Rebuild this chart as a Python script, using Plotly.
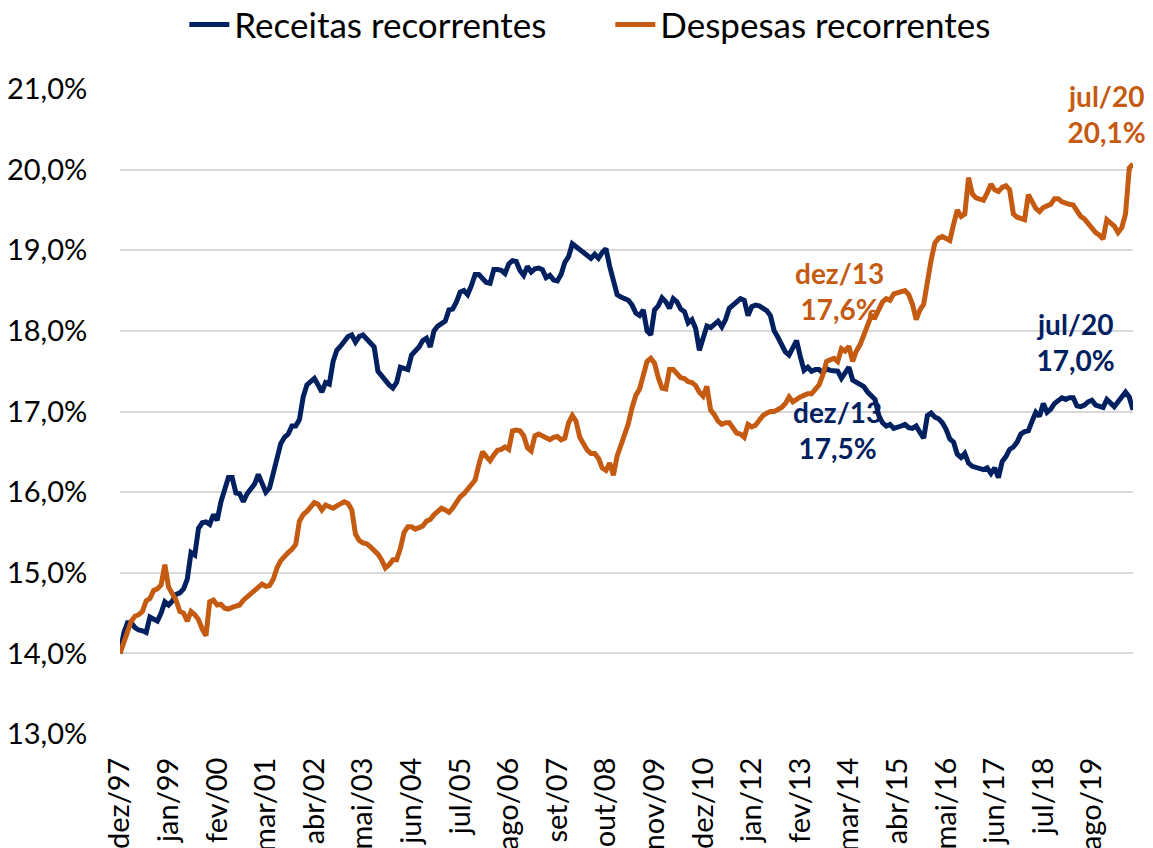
import plotly.graph_objects as go

# --- data: monthly series, dez/97 .. jul/20 (% of GDP) ---
receitas = [
    14.00, 14.25, 14.38, 14.38, 14.32, 14.29, 14.28, 14.26, 14.45, 14.42, 14.40, 14.50,
    14.64, 14.60, 14.65, 14.73, 14.75, 14.80, 14.92, 15.25, 15.22, 15.55, 15.62, 15.63,
    15.60, 15.72, 15.65, 15.88, 16.05, 16.18, 16.18, 15.99, 15.98, 15.88, 15.98, 16.05,
    16.10, 16.22, 16.10, 16.00, 16.05, 16.22, 16.42, 16.60, 16.68, 16.72, 16.82, 16.82,
    16.90, 17.18, 17.33, 17.38, 17.41, 17.33, 17.24, 17.36, 17.34, 17.62, 17.76, 17.81,
    17.88, 17.93, 17.95, 17.86, 17.93, 17.95, 17.90, 17.86, 17.80, 17.50, 17.44, 17.38,
    17.33, 17.29, 17.36, 17.55, 17.53, 17.52, 17.70, 17.74, 17.80, 17.88, 17.91, 17.80,
    18.00, 18.06, 18.10, 18.12, 18.26, 18.27, 18.36, 18.48, 18.50, 18.45, 18.56, 18.70,
    18.70, 18.64, 18.60, 18.59, 18.76, 18.76, 18.75, 18.71, 18.83, 18.87, 18.86, 18.75,
    18.69, 18.80, 18.73, 18.77, 18.78, 18.76, 18.66, 18.69, 18.63, 18.62, 18.70, 18.85,
    18.92, 19.08, 19.04, 19.01, 18.98, 18.93, 18.90, 18.95, 18.90, 18.97, 19.02, 18.80,
    18.62, 18.45, 18.42, 18.40, 18.38, 18.32, 18.22, 18.19, 18.26, 18.00, 17.95, 18.26,
    18.31, 18.41, 18.36, 18.28, 18.40, 18.36, 18.27, 18.24, 18.10, 18.14, 18.03, 17.76,
    17.93, 18.06, 18.04, 18.08, 18.12, 18.05, 18.14, 18.28, 18.32, 18.38, 18.40, 18.38,
    18.19, 18.30, 18.32, 18.31, 18.28, 18.25, 18.19, 18.00, 17.92, 17.82, 17.74, 17.70,
    17.78, 17.88, 17.68, 17.51, 17.55, 17.50, 17.52, 17.52, 17.48, 17.53, 17.51, 17.50,
    17.50, 17.41, 17.48, 17.55, 17.39, 17.36, 17.34, 17.31, 17.24, 17.20, 17.15, 16.95,
    16.86, 16.82, 16.84, 16.79, 16.80, 16.82, 16.84, 16.80, 16.79, 16.82, 16.74, 16.67,
    16.95, 16.98, 16.93, 16.91, 16.86, 16.78, 16.66, 16.62, 16.47, 16.43, 16.48, 16.36,
    16.32, 16.31, 16.30, 16.28, 16.30, 16.23, 16.30, 16.18, 16.38, 16.44, 16.53, 16.56,
    16.62, 16.72, 16.75, 16.76, 16.88, 16.99, 16.94, 17.10, 16.99, 17.03, 17.10, 17.13,
    17.17, 17.15, 17.17, 17.17, 17.07, 17.06, 17.08, 17.12, 17.14, 17.08, 17.06, 17.05,
    17.15, 17.10, 17.06, 17.12, 17.17, 17.24, 17.18, 17.02,
]

despesas = [
    14.00, 14.14, 14.28, 14.40, 14.46, 14.48, 14.52, 14.65, 14.68, 14.78, 14.80, 14.85,
    15.10, 14.82, 14.74, 14.66, 14.52, 14.50, 14.40, 14.52, 14.48, 14.42, 14.30, 14.22,
    14.64, 14.66, 14.60, 14.61, 14.56, 14.55, 14.57, 14.58, 14.60, 14.66, 14.70, 14.75,
    14.80, 14.84, 14.86, 14.83, 14.84, 14.92, 15.06, 15.15, 15.21, 15.25, 15.29, 15.35,
    15.64, 15.72, 15.76, 15.82, 15.87, 15.85, 15.78, 15.84, 15.82, 15.80, 15.83, 15.85,
    15.88, 15.86, 15.78, 15.48, 15.40, 15.37, 15.36, 15.32, 15.28, 15.23, 15.16, 15.06,
    15.10, 15.16, 15.16, 15.30, 15.50, 15.57, 15.57, 15.54, 15.56, 15.58, 15.64, 15.66,
    15.72, 15.77, 15.80, 15.78, 15.75, 15.80, 15.88, 15.94, 15.98, 16.04, 16.09, 16.15,
    16.34, 16.50, 16.44, 16.39, 16.46, 16.52, 16.53, 16.56, 16.53, 16.76, 16.77, 16.76,
    16.70, 16.55, 16.51, 16.70, 16.72, 16.70, 16.67, 16.65, 16.68, 16.69, 16.65, 16.67,
    16.86, 16.95, 16.88, 16.68, 16.60, 16.52, 16.48, 16.48, 16.42, 16.30, 16.27, 16.36,
    16.21, 16.45, 16.58, 16.70, 16.85, 17.05, 17.20, 17.28, 17.46, 17.62, 17.66, 17.60,
    17.42, 17.29, 17.28, 17.52, 17.52, 17.48, 17.42, 17.41, 17.37, 17.36, 17.32, 17.24,
    17.19, 17.31, 17.02, 16.96, 16.88, 16.84, 16.86, 16.86, 16.80, 16.73, 16.72, 16.68,
    16.84, 16.81, 16.83, 16.90, 16.95, 16.98, 17.00, 17.00, 17.02, 17.05, 17.10, 17.18,
    17.12, 17.16, 17.18, 17.20, 17.22, 17.22, 17.27, 17.33, 17.45, 17.62, 17.64, 17.66,
    17.62, 17.78, 17.75, 17.81, 17.62, 17.75, 17.83, 17.95, 18.07, 18.19, 18.17, 18.28,
    18.36, 18.40, 18.38, 18.46, 18.47, 18.48, 18.50, 18.45, 18.33, 18.14, 18.26, 18.33,
    18.62, 18.88, 19.09, 19.15, 19.17, 19.15, 19.12, 19.32, 19.50, 19.42, 19.45, 19.90,
    19.70, 19.65, 19.64, 19.62, 19.71, 19.82, 19.75, 19.73, 19.78, 19.80, 19.75, 19.45,
    19.41, 19.40, 19.38, 19.69, 19.60, 19.52, 19.48, 19.53, 19.55, 19.57, 19.64, 19.64,
    19.60, 19.58, 19.57, 19.56, 19.48, 19.42, 19.39, 19.33, 19.26, 19.22, 19.19, 19.14,
    19.38, 19.33, 19.30, 19.22, 19.28, 19.45, 20.02, 20.07,
]

x_ticktext = ["dez/97", "jan/99", "fev/00", "mar/01", "abr/02", "mai/03", "jun/04",
              "jul/05", "ago/06", "set/07", "out/08", "nov/09", "dez/10", "jan/12",
              "fev/13", "mar/14", "abr/15", "mai/16", "jun/17", "jul/18", "ago/19"]
y_tickvals = [13, 14, 15, 16, 17, 18, 19, 20, 21]
y_ticktext = ["13,0%", "14,0%", "15,0%", "16,0%", "17,0%", "18,0%", "19,0%", "20,0%", "21,0%"]

BLUE = "#002060"
ORANGE = "#C55A11"
FONT = "Lato, Carlito, Calibri, sans-serif"

months = list(range(len(receitas)))
x_tickvals = months[::13]

fig = go.Figure()
fig.add_trace(go.Scatter(x=months, y=receitas, mode="lines", name="Receitas recorrentes",
                         line=dict(color=BLUE, width=5)))
fig.add_trace(go.Scatter(x=months, y=despesas, mode="lines", name="Despesas recorrentes",
                         line=dict(color=ORANGE, width=5)))

# labels next to the lines
notes = [
    ("dez/13<br>17,6%", 192.5, 18.50, ORANGE),
    ("dez/13<br>17,5%", 192.0, 16.77, BLUE),
    ("jul/20<br>17,0%", 255.5, 17.86, BLUE),
    ("jul/20<br>20,1%", 264.0, 20.69, ORANGE),
]
for text, nx, ny, col in notes:
    fig.add_annotation(x=nx, y=ny, text=text, showarrow=False,
                       font=dict(family=FONT, size=28, color=col, weight="bold"),
                       align="center")

# the page body adds an 8px offset at left/top, so the figure is 8px smaller
fig.update_layout(
    width=1145, height=840,
    margin=dict(l=112, r=20, t=81, b=114, autoexpand=False),
    plot_bgcolor="white", paper_bgcolor="white",
    font=dict(family=FONT, size=29, color="black"),
    legend=dict(orientation="h", xref="container", x=0.154, xanchor="left",
                yref="container", y=0.98, yanchor="middle",
                font=dict(size=35), entrywidth=371, itemwidth=40,
                bgcolor="rgba(0,0,0,0)"),
    showlegend=True,
)
fig.update_xaxes(range=[0, len(months) - 1], tickvals=x_tickvals, ticktext=x_ticktext,
                 tickangle=-90, showgrid=False, zeroline=False, showline=False,
                 ticks="outside", ticklen=11, tickcolor="rgba(0,0,0,0)", automargin=False)
fig.update_yaxes(range=[13, 21], tickvals=y_tickvals, ticktext=y_ticktext,
                 showgrid=True, gridcolor="#D9D9D9", gridwidth=1.5, zeroline=False,
                 showline=False, ticks="outside", ticklen=26, tickcolor="rgba(0,0,0,0)",
                 automargin=False)

fig.write_html("out.html")
